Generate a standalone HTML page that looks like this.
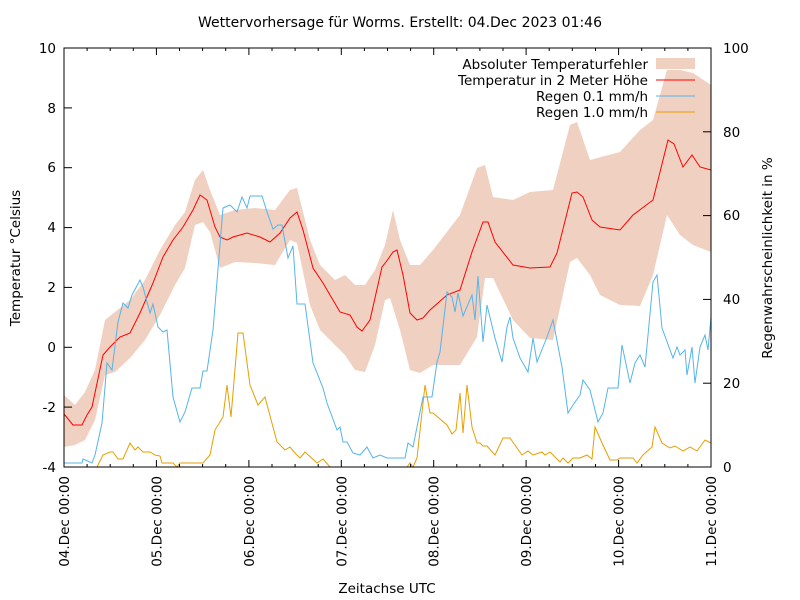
<!DOCTYPE html>
<html><head><meta charset="utf-8"><style>
body{margin:0;background:#fff}
svg{display:block;font-family:"DejaVu Sans","Liberation Sans",sans-serif;font-size:13.5px}
</style></head><body>
<svg width="800" height="600" viewBox="0 0 800 600" xmlns="http://www.w3.org/2000/svg">
<rect width="800" height="600" fill="#fff"/>
<text x="400" y="27" text-anchor="middle" style="font-size:14px">Wettervorhersage für Worms. Erstellt: 04.Dec 2023 01:46</text>
<polygon fill="#f0d0c0" points="64,395 75,405 85,392 95,370 105,320 115,312 130,300 145,280 160,250 175,225 185,212 195,180 203,170 210,190 220,215 235,210 255,208 275,210 290,190 297,188 310,240 320,265 335,280 345,275 355,285 365,285 375,270 385,245 393,210 400,240 410,265 420,265 433,250 460,215 477,168 485,165 493,197 513,200 530,192 553,190 570,125 577,122 590,160 620,152 640,130 653,120 667,70 680,70 693,73 711,85
711,252 693,245 680,235 667,215 653,275 640,306 620,305 600,295 590,275 577,258 570,262 553,340 530,338 513,320 493,278 485,278 477,337 460,365 433,365 420,373 410,370 400,330 390,298 385,300 375,345 365,372 355,370 345,355 335,345 320,330 310,305 297,243 290,240 275,265 255,263 235,262 220,268 210,232 203,222 195,225 185,268 175,285 160,315 145,340 130,358 115,372 105,375 95,420 85,440 75,445 64,447"/>
<polyline fill="none" stroke="#ff0000" stroke-width="1" points="64,414 73,425 82,425 87,415 92,407 103,355 110,347 120,337 130,333 140,313 153,283 163,257 173,240 183,227 193,210 200,195 207,200 215,227 220,237 227,240 233,237 247,233 260,237 270,242 280,233 290,218 297,212 303,230 313,268 323,283 330,295 340,312 350,315 357,327 362,331 370,320 382,267 386,262 393,252 397,250 403,275 410,313 417,320 423,318 430,310 447,295 460,290 472,252 483,222 488,222 495,242 513,265 530,268 550,267 557,253 572,193 577,192 583,197 592,220 600,227 620,230 633,215 653,200 668,140 674,144 683,167 692,155 700,167 711,170"/>
<polyline fill="none" stroke="#56b4e9" stroke-width="1" points="64,463 82,463 83,459 92,463 95,455 102,423 107,363 112,370 118,322 123,303 128,308 132,295 140,280 143,287 150,313 153,304 158,327 163,332 167,330 173,397 180,422 185,412 192,388 200,388 203,371 207,371 213,330 223,208 230,205 237,212 242,197 247,208 250,196 262,196 267,212 273,229 278,225 282,225 288,258 293,246 297,304 305,304 313,363 323,388 327,403 337,430 340,427 343,442 347,442 353,453 360,455 367,447 373,458 380,455 387,458 405,458 408,443 413,447 423,397 432,397 437,362 440,352 447,292 452,297 455,312 458,293 463,316 472,295 475,320 478,276 483,342 487,305 495,338 502,362 507,327 510,317 513,338 520,358 528,372 533,338 537,362 547,337 553,320 562,367 568,413 573,405 580,395 583,380 590,390 598,422 603,413 608,388 618,388 622,345 630,383 635,363 640,355 645,367 653,282 657,275 662,328 673,358 677,347 680,355 685,350 687,375 692,347 695,383 700,347 705,335 708,350 711,317"/>
<polyline fill="none" stroke="#e69f00" stroke-width="1" points="97,467 103,455 110,452 113,452 118,459 123,459 130,443 135,450 138,447 143,452 150,452 155,455 160,456 162,463 173,463 177,467 180,463 203,463 210,455 215,430 223,417 227,385 231,417 238,333 243,333 250,385 258,405 265,397 277,442 285,450 290,447 295,453 300,458 305,452 317,463 323,459 330,467 407,467 410,463 413,467 417,458 425,385 430,413 433,413 447,425 452,434 456,430 460,393 463,433 467,385 472,427 477,443 480,443 483,446 487,446 495,455 503,438 510,438 517,448 522,455 528,451 533,455 542,452 545,455 550,452 560,462 563,458 568,463 573,458 580,458 587,455 592,459 595,427 602,443 610,460 617,460 620,458 633,458 637,463 643,455 652,447 655,427 662,443 670,448 675,446 683,451 690,447 697,451 705,440 711,443"/>
<rect x="64" y="48" width="647" height="419" fill="none" stroke="#000" stroke-width="1"/>
<g stroke="#000" stroke-width="1">
<line x1="64" y1="407.1" x2="72" y2="407.1"/><line x1="64" y1="347.3" x2="72" y2="347.3"/><line x1="64" y1="287.4" x2="72" y2="287.4"/><line x1="64" y1="227.6" x2="72" y2="227.6"/><line x1="64" y1="167.7" x2="72" y2="167.7"/><line x1="64" y1="107.9" x2="72" y2="107.9"/>
<line x1="703" y1="383.2" x2="711" y2="383.2"/><line x1="703" y1="299.4" x2="711" y2="299.4"/><line x1="703" y1="215.6" x2="711" y2="215.6"/><line x1="703" y1="131.8" x2="711" y2="131.8"/>
<line x1="156.4" y1="467" x2="156.4" y2="460"/><line x1="248.9" y1="467" x2="248.9" y2="460"/><line x1="341.3" y1="467" x2="341.3" y2="460"/><line x1="433.7" y1="467" x2="433.7" y2="460"/><line x1="526.1" y1="467" x2="526.1" y2="460"/><line x1="618.6" y1="467" x2="618.6" y2="460"/>
<line x1="156.4" y1="48" x2="156.4" y2="55"/><line x1="248.9" y1="48" x2="248.9" y2="55"/><line x1="341.3" y1="48" x2="341.3" y2="55"/><line x1="433.7" y1="48" x2="433.7" y2="55"/><line x1="526.1" y1="48" x2="526.1" y2="55"/><line x1="618.6" y1="48" x2="618.6" y2="55"/>
</g>
<g stroke="#000" stroke-width="1">
<path d="M87.1 467v-3M110.2 467v-3M133.3 467v-3M179.5 467v-3M202.6 467v-3M225.7 467v-3M272 467v-3M295.1 467v-3M318.2 467v-3M364.4 467v-3M387.5 467v-3M410.6 467v-3M456.8 467v-3M479.9 467v-3M503 467v-3M549.2 467v-3M572.3 467v-3M595.5 467v-3M641.7 467v-3M664.8 467v-3M687.9 467v-3"/>
<path d="M87.1 48v3M110.2 48v3M133.3 48v3M179.5 48v3M202.6 48v3M225.7 48v3M272 48v3M295.1 48v3M318.2 48v3M364.4 48v3M387.5 48v3M410.6 48v3M456.8 48v3M479.9 48v3M503 48v3M549.2 48v3M572.3 48v3M595.5 48v3M641.7 48v3M664.8 48v3M687.9 48v3"/>
</g>
<g text-anchor="end">
<text x="56" y="472">-4</text><text x="56" y="412">-2</text><text x="56" y="352">0</text><text x="56" y="292">2</text><text x="56" y="232">4</text><text x="56" y="172">6</text><text x="56" y="113">8</text><text x="56" y="53">10</text>
</g>
<g text-anchor="start">
<text x="723" y="472">0</text><text x="723" y="388">20</text><text x="723" y="304">40</text><text x="723" y="220">60</text><text x="723" y="137">80</text><text x="723" y="53">100</text>
</g>
<g text-anchor="end">
<text transform="translate(69,476) rotate(-90)">04.Dec 00:00</text>
<text transform="translate(161.4,476) rotate(-90)">05.Dec 00:00</text>
<text transform="translate(253.9,476) rotate(-90)">06.Dec 00:00</text>
<text transform="translate(346.3,476) rotate(-90)">07.Dec 00:00</text>
<text transform="translate(438.7,476) rotate(-90)">08.Dec 00:00</text>
<text transform="translate(531.1,476) rotate(-90)">09.Dec 00:00</text>
<text transform="translate(623.6,476) rotate(-90)">10.Dec 00:00</text>
<text transform="translate(716,476) rotate(-90)">11.Dec 00:00</text>
</g>
<text transform="translate(20,258) rotate(-90)" text-anchor="middle">Temperatur °Celsius</text>
<text transform="translate(772,258) rotate(-90)" text-anchor="middle">Regenwahrscheinlichkeit in %</text>
<text x="387" y="593" text-anchor="middle">Zeitachse UTC</text>
<g text-anchor="end">
<text x="648" y="69">Absoluter Temperaturfehler</text>
<text x="648" y="85">Temperatur in 2 Meter Höhe</text>
<text x="648" y="101">Regen 0.1 mm/h</text>
<text x="648" y="117">Regen 1.0 mm/h</text>
</g>
<rect x="656" y="58" width="39" height="11" fill="#f0d0c0"/>
<line x1="656" y1="80" x2="695" y2="80" stroke="#ff0000"/>
<line x1="656" y1="96" x2="695" y2="96" stroke="#56b4e9"/>
<line x1="656" y1="112" x2="695" y2="112" stroke="#e69f00"/>
</svg>
</body></html>
